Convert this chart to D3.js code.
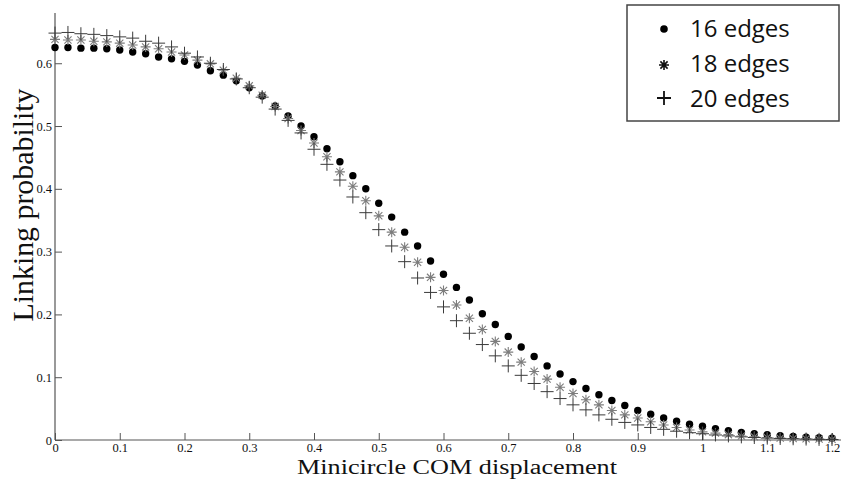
<!DOCTYPE html>
<html>
<head>
<meta charset="utf-8">
<script src="https://cdn.jsdelivr.net/npm/d3@7/dist/d3.min.js"></script>
<style>
  html, body { margin: 0; padding: 0; background: #fff; }
  svg { display: block; }
</style>
</head>
<body>
<svg id="chart" width="842" height="479"></svg>
<script>
// ---- data ----
const displacement = [0.00,0.02,0.04,0.06,0.08,0.10,0.12,0.14,0.16,0.18,
  0.20,0.22,0.24,0.26,0.28,0.30,0.32,0.34,0.36,0.38,
  0.40,0.42,0.44,0.46,0.48,0.50,0.52,0.54,0.56,0.58,
  0.60,0.62,0.64,0.66,0.68,0.70,0.72,0.74,0.76,0.78,
  0.80,0.82,0.84,0.86,0.88,0.90,0.92,0.94,0.96,0.98,
  1.00,1.02,1.04,1.06,1.08,1.10,1.12,1.14,1.16,1.18,1.20];

const edges16 = [0.625,0.625,0.624,0.624,0.623,0.621,0.618,0.615,0.610,0.607,
  0.603,0.597,0.588,0.581,0.572,0.561,0.548,0.532,0.516,0.500,
  0.483,0.464,0.443,0.421,0.400,0.377,0.355,0.331,0.309,0.285,
  0.264,0.243,0.223,0.201,0.184,0.165,0.148,0.133,0.118,0.105,
  0.093,0.082,0.072,0.063,0.055,0.047,0.041,0.035,0.030,0.025,
  0.022,0.018,0.015,0.012,0.010,0.0085,0.007,0.0055,0.0045,0.0037,0.003];

const edges18 = [0.638,0.637,0.637,0.635,0.634,0.632,0.629,0.626,0.623,0.618,
  0.613,0.605,0.599,0.589,0.576,0.564,0.549,0.531,0.512,0.493,
  0.473,0.451,0.427,0.404,0.381,0.357,0.331,0.307,0.283,0.259,
  0.238,0.215,0.194,0.176,0.157,0.140,0.124,0.109,0.097,0.084,
  0.074,0.064,0.056,0.047,0.040,0.035,0.029,0.024,0.020,0.016,
  0.013,0.011,0.0085,0.0064,0.005,0.004,0.003,0.0025,0.002,0.0015,0.001];

const edges20 = [0.648,0.649,0.647,0.646,0.644,0.642,0.640,0.635,0.632,0.626,
  0.616,0.610,0.600,0.590,0.575,0.561,0.546,0.527,0.509,0.489,
  0.463,0.439,0.414,0.387,0.362,0.335,0.309,0.284,0.258,0.235,
  0.212,0.190,0.170,0.152,0.134,0.118,0.103,0.090,0.077,0.066,
  0.056,0.048,0.040,0.033,0.028,0.024,0.020,0.017,0.014,0.0116,
  0.010,0.008,0.0065,0.005,0.004,0.003,0.0025,0.002,0.0015,0.001,0.0008];

const seriesNames = ["16 edges", "18 edges", "20 edges"];
const xTicks = [0,0.1,0.2,0.3,0.4,0.5,0.6,0.7,0.8,0.9,1,1.1,1.2];
const yTicks = [0,0.1,0.2,0.3,0.4,0.5,0.6];
const xLabel = "Minicircle COM displacement";
const yLabel = "Linking probability";

// ---- layout ----
const svg = d3.select("#chart");
const x = d3.scaleLinear().domain([0, 1.2]).range([55, 832]);
const y = d3.scaleLinear().domain([0, 0.68]).range([440, 13]);
const axisColor = "#555";
const serif = "'Liberation Serif', 'Times New Roman', serif";

// axes
const gx = svg.append("g").attr("transform", `translate(0,${y(0)})`)
  .call(d3.axisBottom(x).tickValues(xTicks).tickSizeInner(-7).tickSizeOuter(0).tickPadding(3)
    .tickFormat(d => d3.format("~g")(d)));
const gy = svg.append("g").attr("transform", `translate(${x(0)},0)`)
  .call(d3.axisLeft(y).tickValues(yTicks).tickSizeInner(-7).tickSizeOuter(0).tickPadding(3)
    .tickFormat(d => d3.format("~g")(d)));
[gx, gy].forEach(g => {
  g.select(".domain").remove();
  g.selectAll(".tick line").attr("stroke", axisColor).attr("stroke-width", 1);
  g.selectAll(".tick text").attr("fill", "#111").style("font-family", serif).style("font-size", "12.5px");
});
// axis lines
svg.append("line").attr("x1", x(0)).attr("x2", 841).attr("y1", y(0)).attr("y2", y(0))
  .attr("stroke", axisColor).attr("stroke-width", 1.2);
svg.append("line").attr("x1", x(0)).attr("x2", x(0)).attr("y1", y(0)).attr("y2", y(0.68))
  .attr("stroke", axisColor).attr("stroke-width", 1.2);

// axis labels
svg.append("text").attr("x", 457).attr("y", 474).attr("text-anchor", "middle")
  .attr("textLength", 320).attr("lengthAdjust", "spacingAndGlyphs")
  .style("font-family", serif).style("font-size", "20px").attr("fill", "#111").text(xLabel);
svg.append("text").attr("transform", "translate(33,205) rotate(-90)").attr("text-anchor", "middle")
  .attr("textLength", 233).attr("lengthAdjust", "spacingAndGlyphs")
  .style("font-family", serif).style("font-size", "29px").attr("fill", "#111").text(yLabel);

// marker helpers
function asteriskPath(s) {
  const d = s * 0.72;
  return `M${-s},0L${s},0M0,${-s}L0,${s}M${-d},${-d}L${d},${d}M${-d},${d}L${d},${-d}`;
}
function plusPath(s) {
  return `M${-s},0L${s},0M0,${-s}L0,${s}`;
}

const pts16 = displacement.map((d, i) => ({x: d, y: edges16[i]}));
const pts18 = displacement.map((d, i) => ({x: d, y: edges18[i]}));
const pts20 = displacement.map((d, i) => ({x: d, y: edges20[i]}));

svg.append("g").selectAll("circle").data(pts16).join("circle")
  .attr("cx", d => x(d.x)).attr("cy", d => y(d.y)).attr("r", 3.7).attr("fill", "#000");

svg.append("g").selectAll("path").data(pts18).join("path")
  .attr("transform", d => `translate(${x(d.x)},${y(d.y)})`)
  .attr("d", asteriskPath(5)).attr("stroke", "#7d7d7d").attr("stroke-width", 1.1).attr("fill", "none");

svg.append("g").selectAll("path").data(pts20).join("path")
  .attr("transform", d => `translate(${x(d.x)},${y(d.y)})`)
  .attr("d", plusPath(6.5)).attr("stroke", "#3a3a3a").attr("stroke-width", 1).attr("fill", "none");

// legend
const lg = svg.append("g");
lg.append("rect").attr("x", 627).attr("y", 5).attr("width", 212).attr("height", 116)
  .attr("fill", "#fff").attr("stroke", "#444").attr("stroke-width", 1.5);
const baselines = [37, 72, 107];
seriesNames.forEach((name, i) => {
  lg.append("text").attr("x", 690).attr("y", baselines[i])
    .style("font-family", "'Open Sans', sans-serif").style("font-size", "24px")
    .attr("fill", "#111").text(name);
});
lg.append("circle").attr("cx", 664).attr("cy", 29).attr("r", 3.8).attr("fill", "#000");
lg.append("path").attr("transform", "translate(664,65)").attr("d", asteriskPath(5))
  .attr("stroke", "#111").attr("stroke-width", 1.6).attr("fill", "none");
lg.append("path").attr("transform", "translate(664,98)").attr("d", plusPath(7))
  .attr("stroke", "#111").attr("stroke-width", 1.8).attr("fill", "none");
</script>
</body>
</html>
